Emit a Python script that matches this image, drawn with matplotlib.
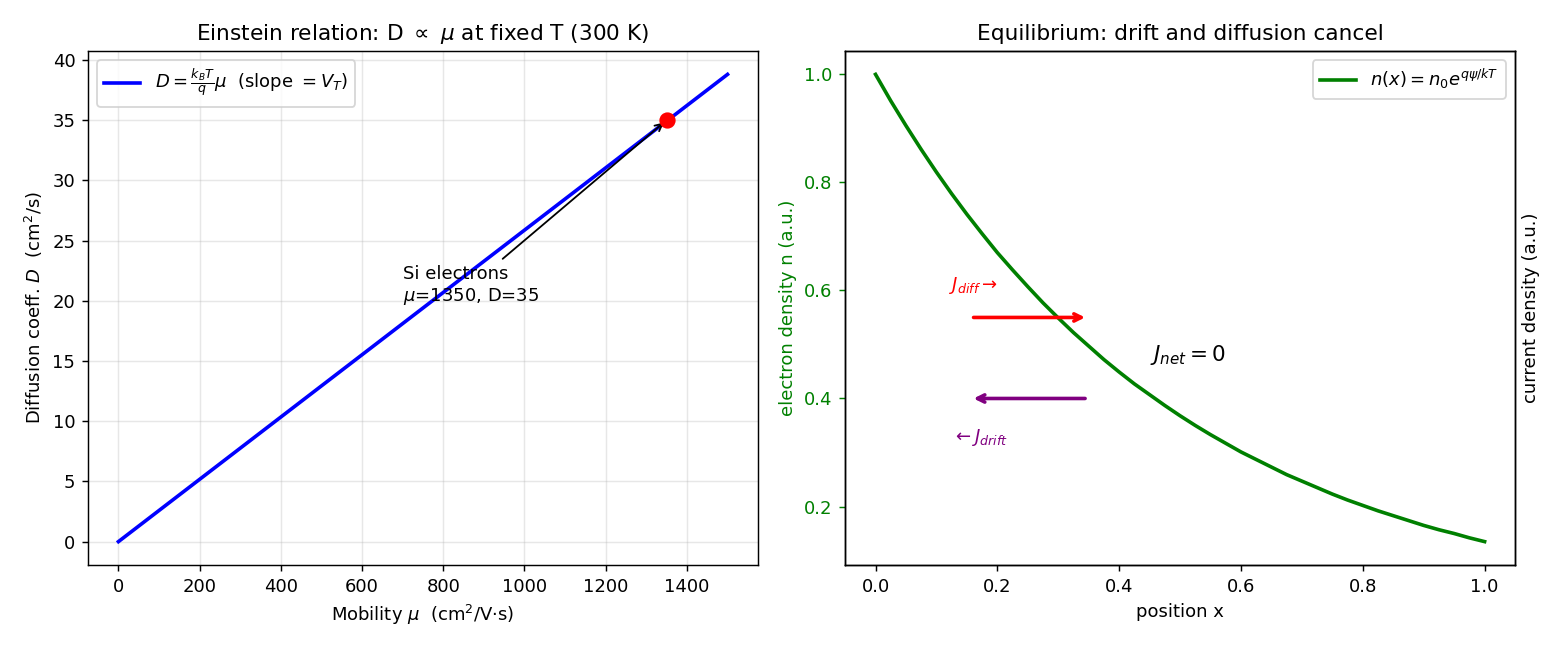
import matplotlib
matplotlib.use("Agg")
import matplotlib.pyplot as plt

# Left panel data
mobility = [0, 1500]
diffusion = [0, 38.8]
si_mu = 1350
si_D = 35

# Right panel data
position = [0.0, 0.025, 0.05, 0.075, 0.1, 0.125, 0.15, 0.175, 0.2, 0.225, 0.25,
            0.275, 0.3, 0.325, 0.35, 0.375, 0.4, 0.425, 0.45, 0.475, 0.5,
            0.525, 0.55, 0.575, 0.6, 0.625, 0.65, 0.675, 0.7, 0.725, 0.75,
            0.775, 0.8, 0.825, 0.85, 0.875, 0.9, 0.925, 0.95, 0.975, 1.0]
density = [1.000, 0.951, 0.905, 0.861, 0.819, 0.779, 0.741, 0.705, 0.670, 0.638, 0.607,
           0.577, 0.549, 0.522, 0.497, 0.472, 0.449, 0.427, 0.407, 0.387, 0.368,
           0.350, 0.333, 0.317, 0.301, 0.287, 0.273, 0.259, 0.247, 0.235, 0.223,
           0.212, 0.202, 0.192, 0.183, 0.174, 0.165, 0.157, 0.150, 0.142, 0.135]

fig, (ax1, ax2) = plt.subplots(1, 2, figsize=(12, 5), dpi=130)

ax1.plot(mobility, diffusion, color='blue', lw=2,
         label=r'$D = \frac{k_BT}{q}\mu$  (slope $= V_T$)')
ax1.plot([si_mu], [si_D], 'o', color='red', markersize=8, zorder=5)
ax1.annotate('Si electrons\n$\\mu$=1350, D=35', xy=(si_mu, si_D), xytext=(700, 20),
             arrowprops=dict(arrowstyle='->', color='black'))
ax1.set_xlabel(r'Mobility $\mu$  (cm$^2$/V$\cdot$s)')
ax1.set_ylabel(r'Diffusion coeff. $D$  (cm$^2$/s)')
ax1.set_title(r'Einstein relation: D $\propto$ $\mu$ at fixed T (300 K)')
ax1.grid(alpha=0.3)
ax1.legend(loc='upper left')

ax2.plot(position, density, color='green', lw=2, label=r'$n(x) = n_0 e^{q\psi/kT}$')
ax2.set_xlabel('position x')
ax2.set_ylabel('electron density n (a.u.)', color='green')
ax2.tick_params(axis='y', colors='green')
ax2.set_title('Equilibrium: drift and diffusion cancel')
ax2.legend(loc='upper right')

ax2.annotate('', xy=(0.35, 0.55), xytext=(0.155, 0.55),
             arrowprops=dict(arrowstyle='->', color='red', lw=2))
ax2.annotate('', xy=(0.155, 0.40), xytext=(0.35, 0.40),
             arrowprops=dict(arrowstyle='->', color='purple', lw=2))
ax2.text(0.12, 0.60, r'$J_{diff}\rightarrow$', color='red', fontsize=10)
ax2.text(0.125, 0.32, r'$\leftarrow J_{drift}$', color='purple', fontsize=10)
ax2.text(0.45, 0.47, r'$J_{net} = 0$', fontsize=12)

ax3 = ax2.twinx()
ax3.set_ylabel('current density (a.u.)')
ax3.set_yticks([])

fig.subplots_adjust(left=0.0564, right=0.9712, top=0.9215, bottom=0.1308, wspace=0.13)
fig.savefig('out.png', dpi=130)
